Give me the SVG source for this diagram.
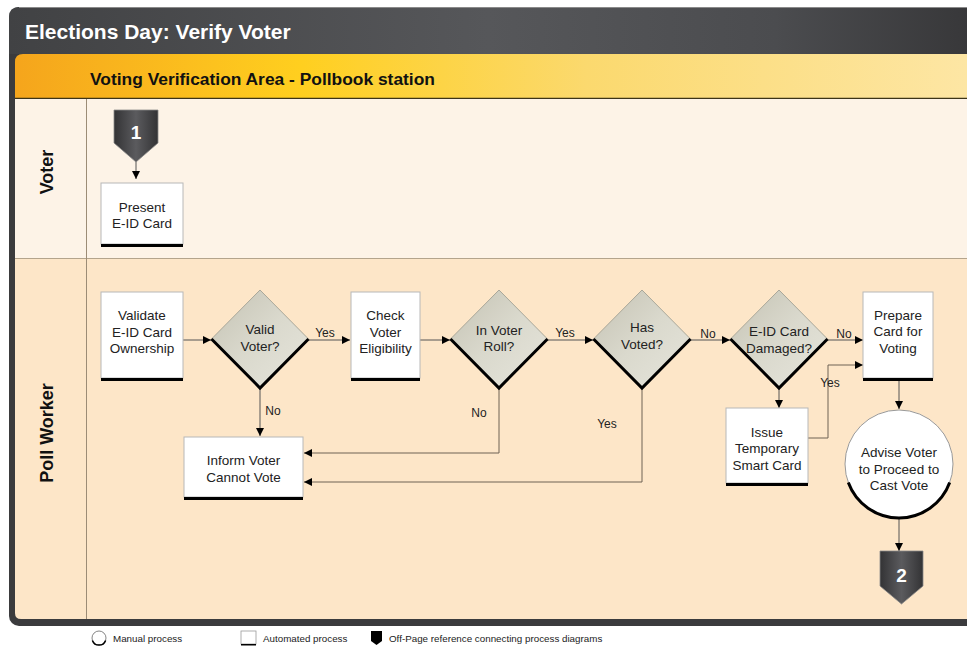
<svg xmlns="http://www.w3.org/2000/svg" width="967" height="647" viewBox="0 0 967 647">
  <defs>
    <linearGradient id="titleGrad" x1="0" y1="0" x2="1" y2="0">
      <stop offset="0" stop-color="#414244"/>
      <stop offset="0.5" stop-color="#56575a"/>
      <stop offset="0.8" stop-color="#4b4c4f"/>
      <stop offset="1" stop-color="#38383a"/>
    </linearGradient>
    <linearGradient id="headGrad" x1="0" y1="0" x2="1" y2="0">
      <stop offset="0" stop-color="#f5a51c"/>
      <stop offset="0.3" stop-color="#ffcf1f"/>
      <stop offset="0.6" stop-color="#fbd96e"/>
      <stop offset="1" stop-color="#fde6a4"/>
    </linearGradient>
    <linearGradient id="diaGrad" x1="0" y1="0" x2="1" y2="1">
      <stop offset="0" stop-color="#c4c2b3"/>
      <stop offset="0.5" stop-color="#dad9cd"/>
      <stop offset="1" stop-color="#e6e5dc"/>
    </linearGradient>
    <linearGradient id="refGrad" x1="0" y1="0" x2="1" y2="0">
      <stop offset="0" stop-color="#333335"/>
      <stop offset="0.5" stop-color="#5b5b5e"/>
      <stop offset="1" stop-color="#333335"/>
    </linearGradient>
    <marker id="ah" viewBox="0 0 8 8" refX="8" refY="4" markerWidth="8" markerHeight="8" orient="auto" markerUnits="userSpaceOnUse">
      <path d="M0,0 L8,4 L0,8 z" fill="#000"/>
    </marker>
    <style>
      .t { font-family: "Liberation Sans", Arial, sans-serif; }
      .node { font-family: "Liberation Sans", Arial, sans-serif; font-size: 13.5px; fill: #222; text-anchor: middle; }
      .lbl { font-family: "Liberation Sans", Arial, sans-serif; font-size: 12px; fill: #222; text-anchor: middle; }
      .lane { font-family: "Liberation Sans", Arial, sans-serif; font-size: 18px; font-weight: bold; fill: #111; text-anchor: middle; }
      .leg { font-family: "Liberation Sans", Arial, sans-serif; font-size: 9.8px; fill: #222; }
      .box { fill: #fff; stroke: #b8b8b8; stroke-width: 1; }
      .shadow { fill: #000; }
      .dia { fill: url(#diaGrad); stroke: #a9a799; stroke-width: 1; }
      .diaEdge { fill: none; stroke: #000; stroke-width: 3; stroke-linejoin: miter; }
      .ref { fill: url(#refGrad); stroke: #888; stroke-width: 0.8; }
      .refNum { font-family: "Liberation Sans", Arial, sans-serif; font-size: 19px; font-weight: bold; fill: #fff; text-anchor: middle; }
      .conn { fill: none; stroke: #555; stroke-width: 1; }
      .ret { fill: none; stroke: #6e6254; stroke-width: 1; }
    </style>
  </defs>

  <!-- page background -->
  <rect x="0" y="0" width="967" height="647" fill="#fff"/>

  <!-- outer frame and title bar -->
  <rect x="9" y="7" width="990" height="619" rx="10" ry="10" fill="#3b3b3d"/>
  <path d="M9,54 V17 Q9,7 19,7 H967 V54 Z" fill="url(#titleGrad)"/>
  <line x1="19" y1="7.5" x2="967" y2="7.5" stroke="#8a8a8a" stroke-width="1"/>
  <text class="t" x="25" y="39" font-size="21" font-weight="bold" fill="#fff">Elections Day: Verify Voter</text>

  <!-- swimlane header -->
  <path d="M15,98 V62 Q15,54 23,54 H967 V98 Z" fill="url(#headGrad)"/>
  <line x1="15" y1="98.5" x2="967" y2="98.5" stroke="#3c3418" stroke-width="1.5"/>
  <text class="t" x="90" y="85" font-size="17.4" font-weight="bold" fill="#111">Voting Verification Area - Pollbook station</text>

  <!-- lanes -->
  <rect x="15" y="99" width="952" height="159" fill="#fdf3e7"/>
  <path d="M15,258 H967 V619 H21 Q15,619 15,613 Z" fill="#fde6c8"/>
  <line x1="15" y1="258.5" x2="967" y2="258.5" stroke="#b4a48c" stroke-width="1"/>
  <line x1="86.5" y1="99" x2="86.5" y2="619" stroke="#9c8c76" stroke-width="1"/>
  <text class="lane" transform="translate(53,172) rotate(-90)">Voter</text>
  <text class="lane" transform="translate(53,433) rotate(-90)">Poll Worker</text>

  <!-- connectors -->
  <g id="connectors">
    <path class="conn" d="M136,161 V179" marker-end="url(#ah)"/>
    <path class="conn" d="M183,340 H211" marker-end="url(#ah)"/>
    <path class="conn" d="M309,340 H350" marker-end="url(#ah)"/>
    <path class="conn" d="M420,340 H450" marker-end="url(#ah)"/>
    <path class="conn" d="M548,340 H593" marker-end="url(#ah)"/>
    <path class="conn" d="M691,340 H730" marker-end="url(#ah)"/>
    <path class="conn" d="M828,340 H863" marker-end="url(#ah)"/>
    <path class="conn" d="M779,389 V408" marker-end="url(#ah)"/>
    <path class="ret" d="M808,438 H828 V365 H863" marker-end="url(#ah)"/>
    <path class="conn" d="M899,381 V409" marker-end="url(#ah)"/>
    <path class="conn" d="M899,519 V551" marker-end="url(#ah)"/>
    <path class="conn" d="M260,389 V436" marker-end="url(#ah)"/>
    <path class="ret" d="M499,389 V453 H304" marker-end="url(#ah)"/>
    <path class="ret" d="M642,389 V482 H304" marker-end="url(#ah)"/>
    <text class="lbl" x="325" y="337">Yes</text>
    <text class="lbl" x="565" y="337">Yes</text>
    <text class="lbl" x="708" y="338">No</text>
    <text class="lbl" x="844" y="338">No</text>
    <text class="lbl" x="830" y="387">Yes</text>
    <text class="lbl" x="273" y="415">No</text>
    <text class="lbl" x="479" y="417">No</text>
    <text class="lbl" x="607" y="428">Yes</text>
  </g>

  <!-- off-page reference 1 -->
  <g id="ref1">
    <path class="ref" d="M114,110 H158 V143 L136,162 L114,143 Z"/>
    <text class="refNum" x="136" y="139">1</text>
  </g>

  <!-- voter lane -->
  <g id="present">
    <rect class="box" x="101" y="183" width="82" height="61"/>
    <rect class="shadow" x="101" y="244" width="82" height="3"/>
    <text class="node" x="142" y="212">Present</text>
    <text class="node" x="142" y="228">E-ID Card</text>
  </g>

  <!-- poll worker lane -->
  <g id="validate">
    <rect class="box" x="101" y="292" width="82" height="86"/>
    <rect class="shadow" x="101" y="378" width="82" height="3"/>
    <text class="node" x="142" y="320">Validate</text>
    <text class="node" x="142" y="337">E-ID Card</text>
    <text class="node" x="142" y="353">Ownership</text>
  </g>

  <g id="validVoter">
    <polygon class="dia" points="260,290 308.5,339 260,388 211.5,339"/>
    <polyline class="diaEdge" points="211.5,339 260,388 308.5,339"/>
    <text class="node" x="260" y="334">Valid</text>
    <text class="node" x="260" y="351">Voter?</text>
  </g>

  <g id="checkEligibility">
    <rect class="box" x="351" y="292" width="69" height="86"/>
    <rect class="shadow" x="351" y="378" width="69" height="3"/>
    <text class="node" x="385.5" y="320">Check</text>
    <text class="node" x="385.5" y="337">Voter</text>
    <text class="node" x="385.5" y="353">Eligibility</text>
  </g>

  <g id="inVoterRoll">
    <polygon class="dia" points="499,290 547.5,339 499,388 450.5,339"/>
    <polyline class="diaEdge" points="450.5,339 499,388 547.5,339"/>
    <text class="node" x="499" y="335">In Voter</text>
    <text class="node" x="499" y="351">Roll?</text>
  </g>

  <g id="hasVoted">
    <polygon class="dia" points="642,290 690.5,339 642,388 593.5,339"/>
    <polyline class="diaEdge" points="593.5,339 642,388 690.5,339"/>
    <text class="node" x="642" y="332">Has</text>
    <text class="node" x="642" y="349">Voted?</text>
  </g>

  <g id="cardDamaged">
    <polygon class="dia" points="779,290 827.5,339 779,388 730.5,339"/>
    <polyline class="diaEdge" points="730.5,339 779,388 827.5,339"/>
    <text class="node" x="779" y="336">E-ID Card</text>
    <text class="node" x="779" y="353">Damaged?</text>
  </g>

  <g id="prepareCard">
    <rect class="box" x="863" y="292" width="70" height="86"/>
    <rect class="shadow" x="863" y="378" width="70" height="3"/>
    <text class="node" x="898" y="320">Prepare</text>
    <text class="node" x="898" y="336">Card for</text>
    <text class="node" x="898" y="353">Voting</text>
  </g>

  <g id="issueTemp">
    <rect class="box" x="726" y="408" width="82" height="75"/>
    <rect class="shadow" x="726" y="483" width="82" height="3"/>
    <text class="node" x="767" y="437">Issue</text>
    <text class="node" x="767" y="453">Temporary</text>
    <text class="node" x="767" y="470">Smart Card</text>
  </g>

  <g id="informVoter">
    <rect class="box" x="184" y="437" width="119" height="60"/>
    <rect class="shadow" x="184" y="497" width="119" height="3"/>
    <text class="node" x="243.5" y="465">Inform Voter</text>
    <text class="node" x="243.5" y="482">Cannot Vote</text>
  </g>

  <g id="adviseVoter">
    <circle cx="899" cy="464" r="54" fill="#fff" stroke="#999" stroke-width="1"/>
    <path d="M848.3,482.5 A54,54 0 0 0 949.7,482.5" fill="none" stroke="#000" stroke-width="3"/>
    <text class="node" x="899" y="457">Advise Voter</text>
    <text class="node" x="899" y="474">to Proceed to</text>
    <text class="node" x="899" y="490">Cast Vote</text>
  </g>

  <!-- off-page reference 2 -->
  <g id="ref2">
    <path class="ref" d="M880,551 H923 V586 L901.5,604 L880,586 Z"/>
    <text class="refNum" x="901.5" y="582">2</text>
  </g>

  <!-- legend -->
  <g id="legend">
    <circle cx="99" cy="638" r="7" fill="#fff" stroke="#666" stroke-width="0.8"/>
    <path d="M92.4,640.4 A7,7 0 0 0 105.6,640.4" fill="none" stroke="#000" stroke-width="1.5"/>
    <text class="leg" x="113" y="642">Manual process</text>
    <rect x="241" y="631" width="15" height="13" fill="#fff" stroke="#999" stroke-width="0.8"/>
    <rect x="241" y="644" width="15" height="1.5" fill="#000"/>
    <text class="leg" x="263" y="642">Automated process</text>
    <path d="M371,631 H382 V641 L376.5,645 L371,641 Z" fill="#000"/>
    <text class="leg" x="389" y="642">Off-Page reference connecting process diagrams</text>
  </g>
</svg>
